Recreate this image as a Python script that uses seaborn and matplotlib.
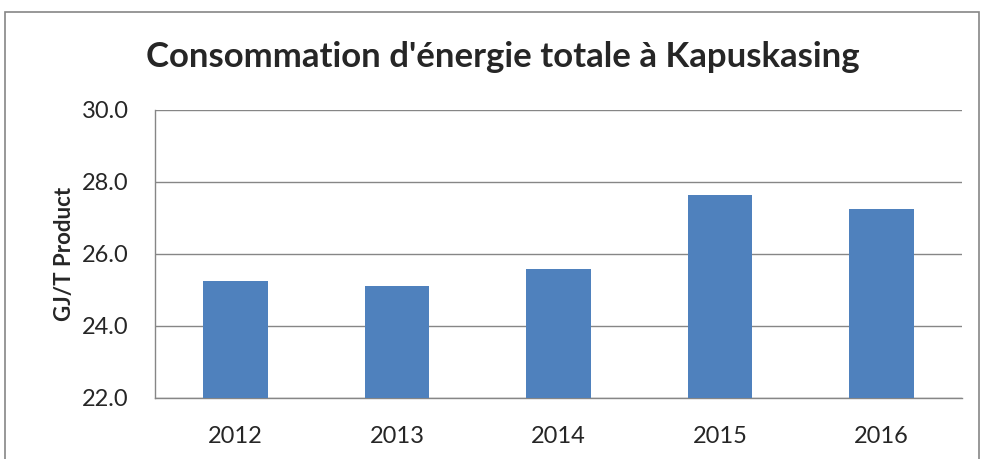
import matplotlib
matplotlib.use("Agg")
import matplotlib.pyplot as plt
import seaborn as sns
import pandas as pd
from matplotlib.patches import Rectangle

years = ["2012", "2013", "2014", "2015", "2016"]
values = [25.25, 25.11, 25.58, 27.64, 27.25]
y_ticks = [22.0, 24.0, 26.0, 28.0, 30.0]

sns.set_style("white")
plt.rcParams['font.family'] = ['Lato', 'DejaVu Sans']

W, H = 982, 459
fig = plt.figure(figsize=(W/100, H/100), dpi=100)
ax = fig.add_axes([155/W, 1-398/H, (962-155)/W, (398-110)/H])

df = pd.DataFrame({"year": years, "value": values})
sns.barplot(data=df, x="year", y="value", color="#4F81BD", saturation=1,
            width=0.4, ax=ax, zorder=3)
for p in ax.patches:
    p.set_edgecolor("none")

ax.set_ylim(22, 30)
ax.set_yticks(y_ticks)
ax.set_yticklabels([f"{t:.1f}" for t in y_ticks], fontsize=17)
ax.set_xlim(-0.5, 4.5)
ax.set_xticks([i - 0.5 for i in range(6)], minor=False)
ax.set_xticklabels([""] * 6)
ax.set_xticks(range(5), minor=True)
ax.set_xticklabels(years, minor=True, fontsize=17)
ax.tick_params(axis="x", which="minor", length=0, pad=20)
ax.tick_params(axis="x", which="major", length=6, color="#868686", direction="out", width=1)
ax.tick_params(axis="y", length=7, color="#868686", direction="out", width=1, pad=12)
ax.grid(axis="y", color="#868686", lw=1, zorder=0)
ax.set_axisbelow(True)
for s in ["top", "right"]:
    ax.spines[s].set_visible(False)
for s in ["left", "bottom"]:
    ax.spines[s].set_color("#868686")
    ax.spines[s].set_linewidth(1)
ax.set_xlabel("")
ax.set_ylabel("GJ/T Product", fontsize=16, fontweight="bold", labelpad=5)

fig.text(0.5125, 1-57/H, "Consommation d'énergie totale à Kapuskasing",
         ha="center", va="center", fontsize=25, fontweight="bold")

fig.patches.append(Rectangle((5/W, -0.05), (979-5)/W, 1.05-12/H + 0.0,
                             transform=fig.transFigure, fill=False,
                             edgecolor="#868686", lw=1.2))

fig.savefig("out.png", dpi=100)
